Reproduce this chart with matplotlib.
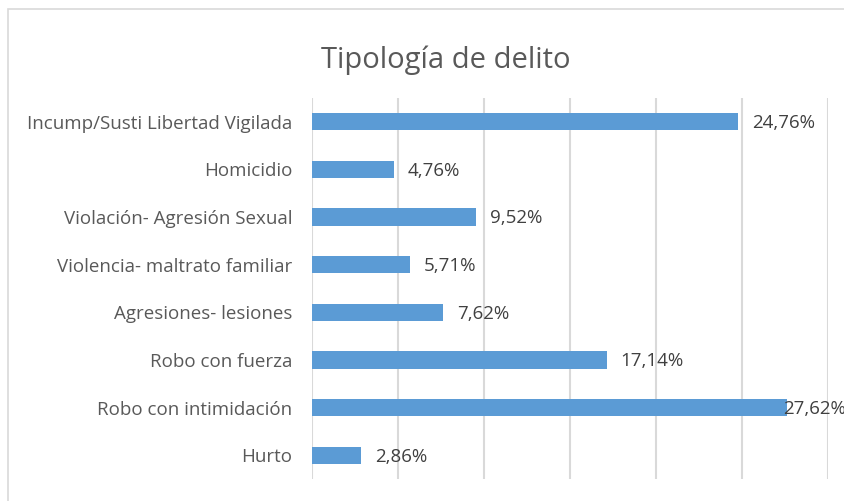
import matplotlib.pyplot as plt
from matplotlib.patches import Rectangle

categories = [
    "Incump/Susti Libertad Vigilada",
    "Homicidio",
    "Violación- Agresión Sexual",
    "Violencia- maltrato familiar",
    "Agresiones- lesiones",
    "Robo con fuerza",
    "Robo con intimidación",
    "Hurto",
]
values = [24.76, 4.76, 9.52, 5.71, 7.62, 17.14, 27.62, 2.86]
labels = ["24,76%", "4,76%", "9,52%", "5,71%", "7,62%", "17,14%", "27,62%", "2,86%"]

plt.rcParams["font.family"] = ["Open Sans", "DejaVu Sans"]

fig = plt.figure(figsize=(8.45, 5.01), dpi=100)
ax = fig.add_axes([312 / 845, 22 / 501, 516 / 845, 381 / 501])

# chart border (cropped on the right and bottom)
fig.patches.append(Rectangle((8 / 845, -0.1), 1.2, 1 - 9 / 501 + 0.1,
                             transform=fig.transFigure, fill=False,
                             edgecolor="#d9d9d9", linewidth=1.2))

y = range(len(categories))
ax.barh(y, values, height=0.36, color="#5b9bd5", zorder=3)

for i, (v, lab) in enumerate(zip(values, labels)):
    # the last-but-one label overlaps its bar end, as in the original
    dx = -3 if v > 27 else 10
    ax.annotate(lab, (v, i), xytext=(dx, -1), textcoords="offset points",
                ha="left", va="center", fontsize=13.5, color="#404040", zorder=4)

ax.set_xlim(0, 30)
ax.set_ylim(len(categories) - 0.5, -0.5)
ax.set_xticks([0, 5, 10, 15, 20, 25, 30])
ax.set_xticklabels([])
ax.set_yticks(list(y))
ax.set_yticklabels(categories, fontsize=13.5, color="#595959")
ax.tick_params(length=0, pad=14)
ax.grid(axis="x", color="#d9d9d9", linewidth=1.5, zorder=0)
for s in ax.spines.values():
    s.set_visible(False)

fig.text(446 / 845, 1 - 60 / 501, "Tipología de delito", ha="center", va="center",
         fontsize=21, color="#595959")

fig.savefig("out.png", dpi=100)
plt.close(fig)
